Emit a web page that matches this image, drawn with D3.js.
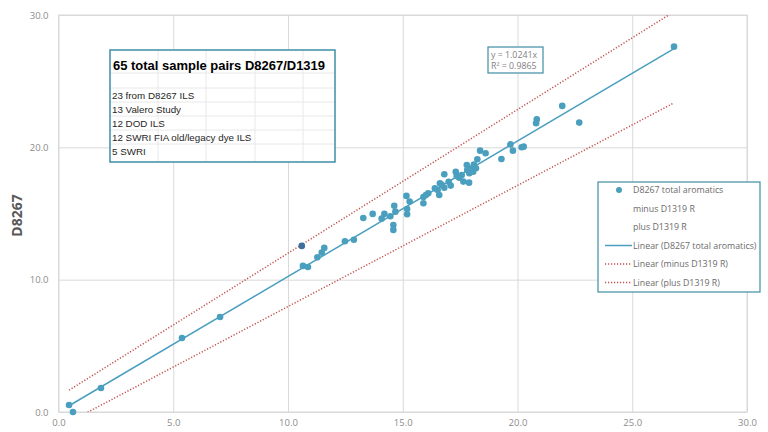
<!DOCTYPE html>
<html>
<head>
<meta charset="utf-8">
<script src="https://cdn.jsdelivr.net/npm/d3@7"></script>
<style>
  body { margin: 0; background: #fff; }
  svg text { font-family: "Open Sans", sans-serif; }
</style>
</head>
<body>
<div id="chart"></div>
<script>
// D1319 (x) vs D8267 total aromatics (y)
const xVals = [0.46, 0.63, 1.85, 5.38, 7.04, 10.65, 10.87, 11.28, 11.47, 11.58,
  12.48, 12.87, 13.28, 13.69, 14.08, 14.20, 14.46, 14.59, 14.59, 14.63,
  14.68, 15.16, 15.19, 15.19, 15.90, 15.90, 16.01, 16.11, 16.52, 16.59,
  16.62, 16.70, 16.81, 16.81, 17.09, 17.31, 17.35, 17.46, 17.57, 17.64,
  17.79, 17.81, 17.89, 17.90, 18.00, 18.07, 18.19, 18.25, 18.37, 18.61,
  19.30, 19.69, 19.80, 20.18, 20.27, 20.81, 20.84, 21.95, 22.69, 26.82,
  17.00, 18.10, 16.40, 15.30];
const yVals = [0.53, 0.00, 1.81, 5.59, 7.18, 11.04, 10.96, 11.69, 12.04, 12.40,
  12.90, 13.02, 14.66, 14.97, 14.61, 14.97, 14.79, 14.13, 13.76, 15.59,
  15.14, 16.33, 15.34, 14.94, 16.25, 15.77, 16.40, 16.53, 16.78, 16.40,
  17.29, 17.16, 17.97, 16.95, 17.11, 18.16, 17.84, 17.71, 17.91, 17.41,
  18.67, 18.29, 17.33, 18.04, 18.42, 18.16, 18.42, 19.10, 19.75, 19.55,
  19.12, 20.22, 19.75, 20.01, 20.05, 21.82, 22.11, 23.13, 21.87, 27.61,
  17.40, 18.70, 16.90, 15.90];
// one point drawn darker in the original
const darkPoint = [10.60, 12.55];

// trendlines: [slope, intercept]
const fitLine = [1.0241, 0];
const minusLine = [0.915, -1.18];
const plusLine = [1.085, 1.15];
const equationText = ["y = 1.0241x", "R² = 0.9865"];

const xTicks = [0, 5, 10, 15, 20, 25, 30];
const yTicks = [0, 10, 20, 30];

const boxTitle = "65 total sample pairs D8267/D1319";
const boxLines = ["23 from D8267 ILS", "13 Valero Study", "12 DOD ILS",
  "12 SWRI FIA old/legacy dye ILS", "5 SWRI"];

const legendItems = [
  { label: "D8267 total aromatics", type: "dot" },
  { label: "minus D1319 R", type: "none" },
  { label: "plus D1319 R", type: "none" },
  { label: "Linear (D8267 total aromatics)", type: "line" },
  { label: "Linear (minus D1319 R)", type: "dotted" },
  { label: "Linear (plus D1319 R)", type: "dotted" }
];

const blue = "#4a9fbf";
const red = "#c0504d";
const teal = "#3f8ea5";

const W = 768, H = 432;
const pLeft = 58.5, pRight = 747, pTop = 15, pBottom = 412;

const svg = d3.select("#chart").append("svg")
  .attr("width", W).attr("height", H);

const x = d3.scaleLinear().domain([0, 30]).range([pLeft, pRight]);
const y = d3.scaleLinear().domain([0, 30]).range([pBottom, pTop]);

// gridlines
svg.append("g")
  .attr("transform", `translate(0,${pBottom})`)
  .call(d3.axisBottom(x).tickValues(xTicks).tickSize(-(pBottom - pTop)).tickFormat(""))
  .call(g => g.select(".domain").remove())
  .selectAll("line").attr("stroke", "#d9d9d9");
svg.append("g")
  .attr("transform", `translate(${pLeft},0)`)
  .call(d3.axisLeft(y).tickValues(yTicks).tickSize(-(pRight - pLeft)).tickFormat(""))
  .call(g => g.select(".domain").remove())
  .selectAll("line").attr("stroke", "#d9d9d9");

svg.append("rect")
  .attr("x", pLeft).attr("y", pTop)
  .attr("width", pRight - pLeft).attr("height", pBottom - pTop)
  .attr("fill", "none").attr("stroke", "#d9d9d9");

// tick labels
svg.append("g")
  .attr("transform", `translate(0,${pBottom})`)
  .call(d3.axisBottom(x).tickValues(xTicks).tickSize(0).tickPadding(7).tickFormat(d3.format(".1f")))
  .call(g => g.select(".domain").remove())
  .selectAll("text")
  .attr("fill", "#8c8c8c").style("font-size", "9.5px").style("font-family", "Open Sans");
svg.append("g")
  .attr("transform", `translate(${pLeft},0)`)
  .call(d3.axisLeft(y).tickValues(yTicks).tickSize(0).tickPadding(10).tickFormat(d3.format(".1f")))
  .call(g => g.select(".domain").remove())
  .selectAll("text")
  .attr("fill", "#8c8c8c").style("font-size", "9.5px").style("font-family", "Open Sans");

svg.append("text")
  .attr("transform", `translate(22,${(pTop + pBottom) / 2 + 2}) rotate(-90)`)
  .attr("text-anchor", "middle")
  .attr("fill", "#595959")
  .style("font-size", "14px").style("font-weight", "bold")
  .text("D8267");

// trendlines, clipped to the plot area
svg.append("clipPath").attr("id", "plot")
  .append("rect").attr("x", pLeft).attr("y", pTop)
  .attr("width", pRight - pLeft).attr("height", pBottom - pTop);

const xMin = d3.min(xVals), xMax = d3.max(xVals);
const lines = svg.append("g").attr("clip-path", "url(#plot)");
function trend(coef, color, dash, width) {
  lines.append("line")
    .attr("x1", x(xMin)).attr("y1", y(coef[0] * xMin + coef[1]))
    .attr("x2", x(xMax)).attr("y2", y(coef[0] * xMax + coef[1]))
    .attr("stroke", color).attr("stroke-width", width)
    .attr("stroke-dasharray", dash);
}
trend(plusLine, red, "1.2 1.8", 1.5);
trend(minusLine, red, "1.2 1.8", 1.5);
trend(fitLine, blue, null, 1.5);

// points
svg.append("g")
  .selectAll("circle")
  .data(xVals.map((d, i) => [d, yVals[i]]))
  .enter()
  .append("circle")
  .attr("cx", d => x(d[0]))
  .attr("cy", d => y(d[1]))
  .attr("r", 3.3)
  .attr("fill", blue);
svg.append("circle")
  .attr("cx", x(darkPoint[0])).attr("cy", y(darkPoint[1]))
  .attr("r", 3.3).attr("fill", "#3e6f9c");

// sample box
const box = svg.append("g").attr("transform", "translate(110,50)");
const bw = 225, bh = 112;
box.append("rect").attr("width", bw).attr("height", bh).attr("fill", "#fff");
[48, 96, 145, 193].forEach(cx => box.append("line")
  .attr("x1", cx).attr("x2", cx).attr("y1", 0).attr("y2", bh)
  .attr("stroke", "#e8e8e8"));
[23, 38, 52, 66, 80, 94].forEach(cy => box.append("line")
  .attr("x1", 0).attr("x2", bw).attr("y1", cy).attr("y2", cy)
  .attr("stroke", "#e8e8e8"));
box.append("rect").attr("width", bw).attr("height", bh)
  .attr("fill", "none").attr("stroke", teal).attr("stroke-width", 1.5);
box.append("text")
  .attr("x", 3).attr("y", 20)
  .attr("fill", "#000")
  .style("font-size", "13.5px").style("font-weight", "bold")
  .style("font-family", "Liberation Sans, sans-serif")
  .attr("textLength", 212).attr("lengthAdjust", "spacingAndGlyphs")
  .text(boxTitle);
box.selectAll("text.line")
  .data(boxLines)
  .enter()
  .append("text")
  .attr("class", "line")
  .attr("x", 2).attr("y", (d, i) => 49 + i * 14.1)
  .attr("fill", "#262626")
  .style("font-size", "9.8px")
  .style("font-family", "Liberation Sans, sans-serif")
  .text(d => d);

// equation box
const eq = svg.append("g").attr("transform", "translate(488,47)");
eq.append("rect").attr("width", 55).attr("height", 26)
  .attr("fill", "#fff").attr("stroke", teal).attr("stroke-width", 1.2);
eq.selectAll("text")
  .data(equationText)
  .enter()
  .append("text")
  .attr("x", 3).attr("y", (d, i) => 10.5 + i * 11)
  .attr("fill", "#7f7f7f")
  .style("font-size", "8.8px")
  .text(d => d);

// legend
const lg = svg.append("g").attr("transform", "translate(598,182)");
lg.append("rect").attr("width", 162).attr("height", 110)
  .attr("fill", "#fff").attr("stroke", teal).attr("stroke-width", 1.2);
const rows = lg.selectAll("g.row")
  .data(legendItems)
  .enter()
  .append("g")
  .attr("class", "row")
  .attr("transform", (d, i) => `translate(0,${8 + i * 18.5})`);
rows.filter(d => d.type === "dot").append("circle")
  .attr("cx", 21).attr("cy", 0).attr("r", 3).attr("fill", blue);
rows.filter(d => d.type === "line").append("line")
  .attr("x1", 7).attr("x2", 34).attr("y1", 0).attr("y2", 0)
  .attr("stroke", blue).attr("stroke-width", 1.5);
rows.filter(d => d.type === "dotted").append("line")
  .attr("x1", 7).attr("x2", 34).attr("y1", 0).attr("y2", 0)
  .attr("stroke", red).attr("stroke-width", 1.5).attr("stroke-dasharray", "1.2 1.8");
rows.append("text")
  .attr("x", 35).attr("y", 3)
  .attr("fill", "#6b6b6b")
  .style("font-size", "8.8px")
  .text(d => d.label);
</script>
</body>
</html>
